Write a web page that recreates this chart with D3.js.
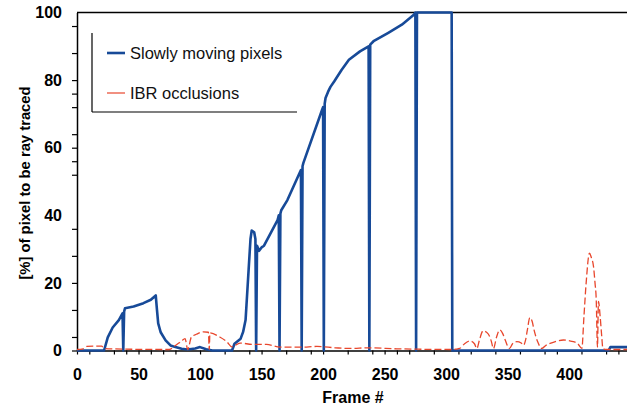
<!DOCTYPE html>
<html>
<head>
<meta charset="utf-8">
<script src="https://cdn.jsdelivr.net/npm/d3@7"></script>
<style>
  html, body { margin: 0; padding: 0; background: #fff; }
  svg { display: block; font-family: "Liberation Sans", Arial, sans-serif; }
</style>
</head>
<body>
<svg id="chart" width="627" height="407"></svg>
<script>
// ---- data ----
const seriesNames = ["Slowly moving pixels", "IBR occlusions"];
const slowFrames = [0,22,25,29,34,37,37.6,38.3,39,46,54,60,64,65,66,68,72,76,80,85,90,96,100,105,110,126,128,133,135,137,138,139.5,141,142,144,145,145.6,146.3,148,150,152,163,164,164.6,165.3,166,171,182,182.6,183.3,184,199,200,200.6,201.3,202,204,206,209,215,221,230,237,237.6,238.3,241,253,264,274,275,275.6,276.3,304.5,305,432,433.5,447];
const slowValues = [0,0,3.9,6.8,9,11,0,11.5,12.5,13,14,15,16.3,12,8,5.4,3,1.5,1,0.5,0.3,0.6,1,0.4,0,0,2,3.5,5.5,9,15,24,33,35.5,35,33,0,31,29.5,30.5,31,38.6,40,0,40.5,41.5,44.5,53.4,0,54.5,55.5,71,72,0,73,74.7,76.5,78,79.6,83,86,88.5,90,0,90.5,91.5,94,96.4,99.4,100,0,100,100,0,0,1,1];
const ibrFrames = [0,5,8,20,22,40,75,80,85,87.8,90,93,97,102.7,106.8,107.5,108,116,121.7,125.8,132.5,143,154,165,182,195,210,222,237,260,275,305,308,311,315,319.5,323,325,327,330,334,336.5,338.5,341,343.5,346,348,351.5,354,357.5,361,363,364.5,366,368,370,371.5,374.5,377.8,381,384.5,390,395.4,400,403.5,407,410.3,412,413.8,416.5,418,419.8,421,422,423,423.8,425.2,426.5,427.4,430,447];
const ibrValues = [0.3,0.5,1.2,1.3,0.6,0.4,0.3,1.5,2.8,3.5,0.3,4,4.8,5.5,5.4,0.3,5.2,4,2.6,1.1,2.2,1.8,1.8,1,1,1.2,0.8,0.6,0.8,0.5,0.4,0.3,0.4,0.6,2,2.8,2,0.6,3,5.8,5,3,0.6,4,6.1,5,3.1,0.6,2,2.6,2.2,1.6,3,6,9.7,8.5,6,2.5,0.6,1.5,2.1,2.8,3.1,2.9,2.6,2,0.6,10,20,28.8,27.5,24.8,20,15,1,14.5,10,4,0.6,0.3,0.3];
const xTickLabels = [0,50,100,150,200,250,300,350,400];
const yTickLabels = [0,20,40,60,80,100];
const xMinorTicks = [0,10,30,40,50,60,70,80,100,120,140,150,170,190,200,220,240,250,260,270,290,310,320,340,360,380,390,410,430,440];
const yMinorTicks = [0,4,12,20,28,36,52,56,60,64,72,76,80,88,96];
const xTitle = "Frame #";
const yTitle = "[%] of pixel to be ray traced";

// ---- drawing ----
const svg = d3.select("#chart");
const mLeft = 77, mRight = 627, mTop = 12.5, mBottom = 350.5;
const x = d3.scaleLinear().domain([0, 447]).range([mLeft, mRight]);
const y = d3.scaleLinear().domain([0, 100]).range([mBottom, mTop]);
const blue = "#174a98", red = "#e8462c";

const slow = slowFrames.map((f, i) => [f, slowValues[i]]);
const ibr = ibrFrames.map((f, i) => [f, ibrValues[i]]);

svg.append("line").attr("x1", mLeft).attr("x2", mRight).attr("y1", mTop).attr("y2", mTop)
  .attr("stroke", "#000").attr("stroke-width", 1.3);

const yAxisG = svg.append("g").attr("transform", `translate(${mLeft},0)`)
  .call(d3.axisLeft(y).tickValues(yMinorTicks).tickSize(5).tickSizeOuter(0).tickFormat(""));
yAxisG.select(".domain").attr("stroke-width", 1.5);
yAxisG.selectAll(".tick line").attr("stroke-width", 1.2);

const yLab = svg.append("g").attr("transform", `translate(${mLeft},0)`)
  .call(d3.axisLeft(y).tickValues(yTickLabels).tickSize(0).tickPadding(15).tickFormat(d3.format("d")));
yLab.select(".domain").remove();
yLab.selectAll("text").attr("font-size", 16).attr("font-weight", "bold")
  .attr("font-family", "'Liberation Sans', Arial, sans-serif").attr("fill", "#000");

const xAxisG = svg.append("g").attr("transform", `translate(0,${mBottom})`)
  .call(d3.axisBottom(x).tickValues(xMinorTicks).tickSize(4).tickSizeOuter(0).tickFormat(""));
xAxisG.select(".domain").attr("stroke-width", 1.3);
xAxisG.selectAll(".tick line").attr("stroke-width", 1.2);

const xLab = svg.append("g").attr("transform", `translate(0,${mBottom})`)
  .call(d3.axisBottom(x).tickValues(xTickLabels).tickSize(0).tickPadding(18.5).tickFormat(d3.format("d")));
xLab.select(".domain").remove();
xLab.selectAll("text").attr("font-size", 16).attr("font-weight", "bold")
  .attr("font-family", "'Liberation Sans', Arial, sans-serif").attr("fill", "#000");

svg.append("text").attr("x", 353).attr("y", 403).attr("text-anchor", "middle")
  .attr("font-size", 16).attr("font-weight", "bold").text(xTitle);
svg.append("text").attr("transform", "translate(30,183) rotate(-90)").attr("text-anchor", "middle")
  .attr("font-size", 14.8).attr("font-weight", "bold").text(yTitle);

const line = d3.line().x(d => x(d[0])).y(d => y(d[1]));
svg.append("path").datum(slow).attr("d", line)
  .attr("fill", "none").attr("stroke", blue).attr("stroke-width", 2.6).attr("stroke-linejoin", "round");
const redLine = d3.line().x(d => x(d[0])).y(d => y(d[1])).curve(d3.curveMonotoneX);
svg.append("path").datum(ibr).attr("d", redLine)
  .attr("fill", "none").attr("stroke", red).attr("stroke-width", 1.3).attr("stroke-dasharray", "7,3");

const lg = svg.append("g");
lg.append("line").attr("x1", 92).attr("x2", 92).attr("y1", 33).attr("y2", 112).attr("stroke", "#000").attr("stroke-width", 1.2);
lg.append("line").attr("x1", 92).attr("x2", 297).attr("y1", 112).attr("y2", 112).attr("stroke", "#000").attr("stroke-width", 1.2);
const legendItems = [{name: seriesNames[0], color: blue, w: 2.6, cy: 53}, {name: seriesNames[1], color: red, w: 1.2, cy: 93}];
legendItems.forEach(it => {
  lg.append("line").attr("x1", 107).attr("x2", 125).attr("y1", it.cy).attr("y2", it.cy)
    .attr("stroke", it.color).attr("stroke-width", it.w);
  lg.append("text").attr("x", 130).attr("y", it.cy + 6).attr("font-size", 16.5).attr("fill", "#111").text(it.name);
});
</script>
</body>
</html>
